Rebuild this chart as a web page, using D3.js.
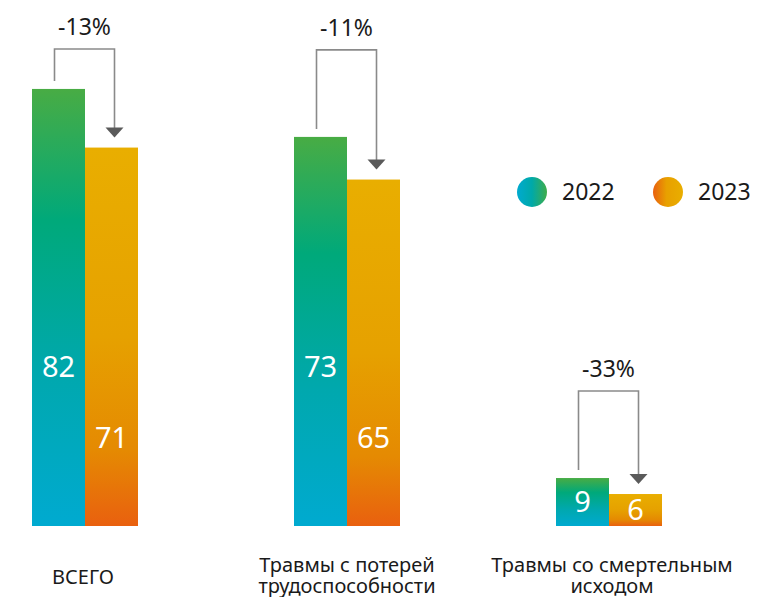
<!DOCTYPE html>
<html><head><meta charset="utf-8">
<script src="https://cdn.jsdelivr.net/npm/d3@7"></script>
<style>body{margin:0;background:#fff}svg{display:block}text{font-family:"Noto Sans",sans-serif}</style>
</head><body><svg id="c" width="757" height="597"></svg>
<script>
const categories = ["ВСЕГО", "Травмы с потерей|трудоспособности", "Травмы со смертельным|исходом"];
const series = ["2022", "2023"];
const values2022 = [82, 73, 9];
const values2023 = [71, 65, 6];
const changeLabels = ["-13%", "-11%", "-33%"];

const svg = d3.select("#c");
const defs = svg.append("defs");

function vgrad(id, stops){
  const g = defs.append("linearGradient").attr("id", id).attr("x1",0).attr("y1",0).attr("x2",0).attr("y2",1);
  stops.forEach(s => g.append("stop").attr("offset", s[0]).attr("stop-color", s[1]));
}
function hgrad(id, stops){
  const g = defs.append("linearGradient").attr("id", id).attr("x1",0).attr("y1",0).attr("x2",1).attr("y2",0);
  stops.forEach(s => g.append("stop").attr("offset", s[0]).attr("stop-color", s[1]));
}
vgrad("g2022", [[0,"#48ac44"],[0.3,"#00a97a"],[0.65,"#00a8ae"],[1,"#00aad0"]]);
vgrad("g2023", [[0,"#e9ae00"],[0.5,"#e6a100"],[0.8,"#e58a02"],[1,"#e9600f"]]);
hgrad("l2022", [[0,"#00aad0"],[0.5,"#00a9a8"],[1,"#3fac4a"]]);
hgrad("l2023", [[0,"#e9600f"],[0.45,"#e8a000"],[1,"#e9ae00"]]);

const x = d3.scalePoint().domain(categories).range([85, 609]);
const xi = d3.scaleBand().domain(series).range([-53, 53]);
const y = d3.scaleLinear().domain([0, 100]).range([526, -7]);

const data = categories.map((c, i) => ({cat: c, v: [values2022[i], values2023[i]], change: changeLabels[i]}));

const grp = svg.selectAll("g.grp").data(data).join("g").attr("class","grp")
  .attr("transform", d => `translate(${x(d.cat)},0)`);

grp.selectAll("rect").data(d => series.map((s, j) => ({s, v: d.v[j]}))).join("rect")
  .attr("x", d => xi(d.s)).attr("width", xi.bandwidth())
  .attr("y", d => y(d.v)).attr("height", d => y(0) - y(d.v))
  .attr("fill", d => `url(#g${d.s})`);

grp.selectAll("text.val").data(d => series.map((s, j) => ({s, v: d.v[j]}))).join("text")
  .attr("class","val")
  .attr("x", d => xi(d.s) + xi.bandwidth()/2)
  .attr("y", d => {
    const h = y(0) - y(d.v);
    if (h > 120) return y(0) - (d.s === "2022" ? 159 : 88);
    return (y(d.v) + y(0)) / 2;
  })
  .attr("dy", "0.36em")
  .attr("text-anchor","middle").attr("fill","#fff")
  .attr("font-size", 29).text(d => d.v);

// brackets
grp.each(function(d, i){
  const g = d3.select(this);
  const x1 = xi("2022") + xi.bandwidth()/2 - 4;
  const x2 = xi("2023") + xi.bandwidth()/2 + 3;
  const yTop1 = y(d.v[0]);
  const yTop2 = y(d.v[1]);
  const by = Math.max(49, yTop1 - 87);
  const tip = yTop2 - 10;
  g.append("path")
    .attr("d", `M${x1},${yTop1 - 8}V${by}H${x2}V${tip - 8}`)
    .attr("fill","none").attr("stroke","#8a8a8a").attr("stroke-width",1.6);
  g.append("path")
    .attr("d", `M${x2 - 9},${tip - 10}L${x2 + 9},${tip - 10}L${x2},${tip}Z`)
    .attr("fill","#5a5a5a");
  g.append("text").attr("x", (x1 + x2)/2).attr("y", by - 14)
    .attr("text-anchor","middle").attr("font-size", 23).attr("fill","#1a1a1a")
    .text(d.change);
  const lines = d.cat.split("|");
  const single = lines.length === 1;
  const t = g.append("text").attr("text-anchor","middle")
    .attr("font-size", 20).attr("fill","#1a1a1a");
  const y0 = single ? 584 : 572;
  lines.forEach((l, k) => t.append("tspan").attr("x", i === 2 ? 3 : (single ? -2 : 0)).attr("y", y0 + k*21).text(l));
});

// legend
const leg = svg.append("g");
const legX = [532, 668];
series.forEach((s, j) => {
  leg.append("circle").attr("cx", legX[j]).attr("cy", 192).attr("r", 15).attr("fill", `url(#l${s})`);
  leg.append("text").attr("x", legX[j] + 30).attr("y", 200).attr("font-size", 23).attr("fill","#1a1a1a").text(s);
});
</script></body></html>
